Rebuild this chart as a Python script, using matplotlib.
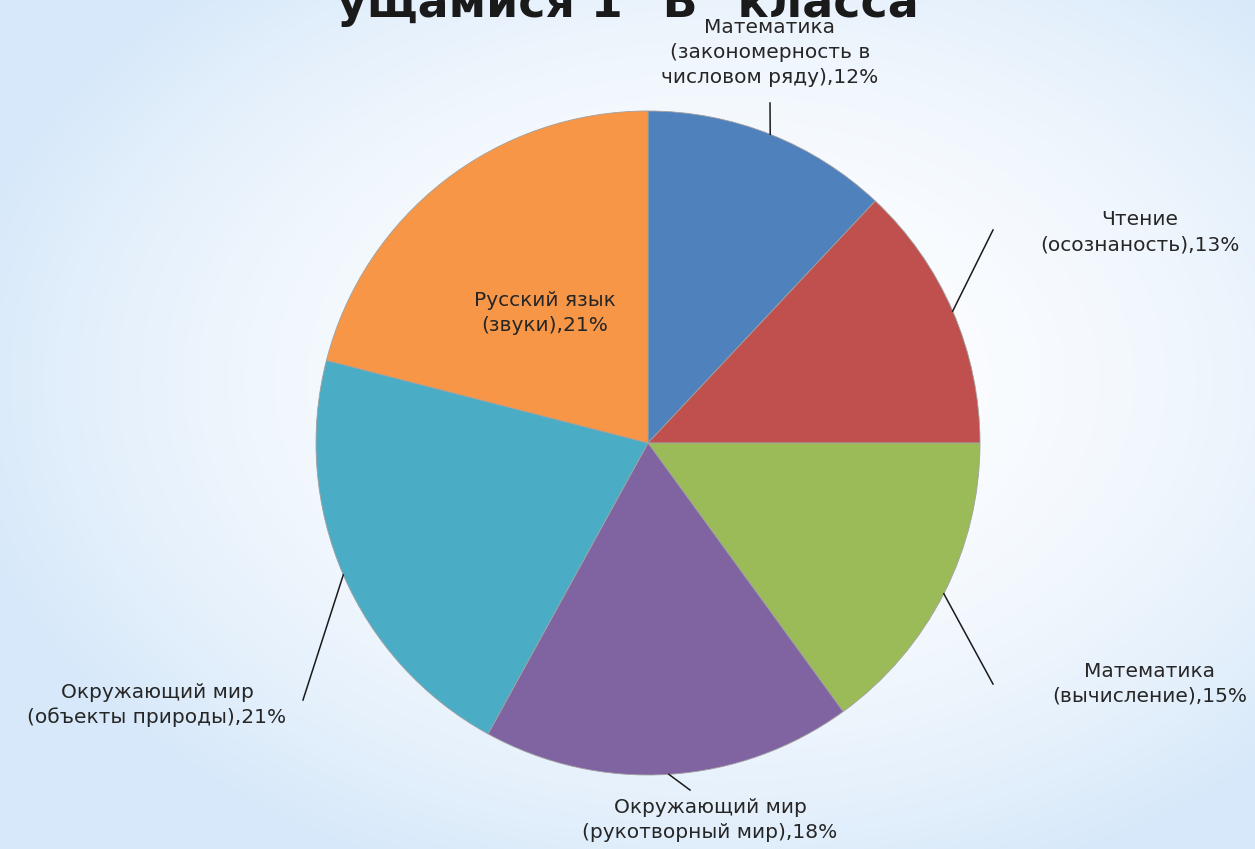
import numpy as np
import matplotlib.pyplot as plt

# data
categories = [
    'Математика\n(закономерность в\nчисловом ряду)',
    'Чтение\n(осознаность)',
    'Математика\n(вычисление)',
    'Окружающий мир\n(рукотворный мир)',
    'Окружающий мир\n(объекты природы)',
    'Русский язык\n(звуки)',
]
values = [12, 13, 15, 18, 21, 21]
colors = ['#4f81bd', '#c0504d', '#9bbb59', '#8064a2', '#4bacc6', '#f79646']
title = 'ущамися 1 "В" класса'

W, H = 1255, 849

def px(x, y):
    # pixel (from top-left) -> data coords
    return x, H - y

fig = plt.figure(figsize=(W / 100, H / 100), dpi=100)
ax = fig.add_axes([0, 0, 1, 1])

# background: pale blue fading to white toward the middle
yy, xx = np.mgrid[0:H, 0:W]
d = np.sqrt(((xx - 720) / 780.0) ** 2 + ((yy - 380) / 540.0) ** 2)
t = np.clip(d, 0, 1) ** 2.0
edge = np.array([0.84, 0.91, 0.98])
white = np.array([0.995, 0.997, 1.0])
bg = white[None, None, :] * (1 - t[..., None]) + edge[None, None, :] * t[..., None]
ax.imshow(bg, extent=[0, W, 0, H], origin='upper', zorder=0, aspect='auto')

cx, cy = px(648, 443)
R = 332
wedges, _ = ax.pie(values, colors=colors, startangle=90, counterclock=False,
                   center=(cx, cy), radius=R,
                   wedgeprops=dict(edgecolor='#a0a0a0', linewidth=0.6))

# label placement (pixels) and leader ends
label_pos = [(770, 52), (1140, 232), (1150, 684), (710, 820), (157, 705), (545, 313)]
leader_end = [(770, 103), (993, 230), (993, 684), (690, 790), (303, 700), None]

for w, name, v, lp, le in zip(wedges, categories, values, label_pos, leader_end):
    ang = np.deg2rad((w.theta1 + w.theta2) / 2)
    ex, ey = cx + R * np.cos(ang), cy + R * np.sin(ang)
    tx, ty = px(*lp)
    ax.text(tx, ty, f'{name},{v}%', ha='center', va='center', fontsize=14.5,
            color='#262626', linespacing=1.4, zorder=5)
    if le is not None:
        lx, ly = px(*le)
        ax.plot([ex, lx], [ey, ly], color='#1a1a1a', lw=1.1, zorder=4)

tx, ty = px(628, 17)
ax.text(tx, ty, title, ha='center', va='baseline', fontsize=33,
        fontweight='bold', color='#1a1a1a', zorder=3)

ax.set_xlim(0, W)
ax.set_ylim(0, H)
ax.set_aspect('equal')
ax.axis('off')

fig.savefig('out.png', dpi=100)
